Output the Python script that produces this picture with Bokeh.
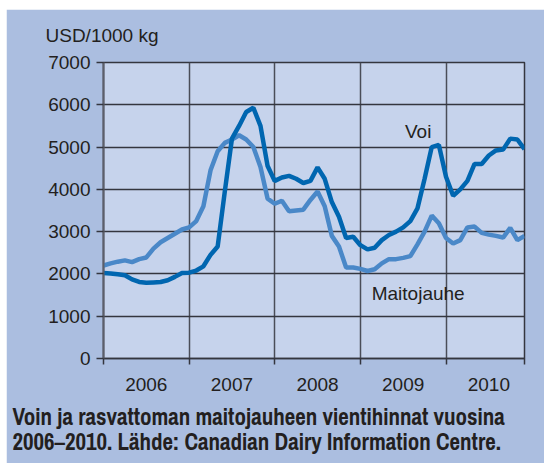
from bokeh.plotting import figure
from bokeh.models import FixedTicker, Title, Label, Range1d, Spacer
from bokeh.layouts import column, row
from bokeh.embed import file_html
from bokeh.resources import INLINE

# monthly data, Jan 2006 .. Dec 2010 (month index 0..59)
months = list(range(60))
voi = [2020, 2010, 1990, 1970, 1870, 1810, 1790, 1800, 1810, 1850, 1930, 2020,
       2030, 2080, 2180, 2450, 2650, 3950, 5200, 5500, 5830, 5930, 5500, 4550,
       4200, 4280, 4320, 4250, 4150, 4200, 4520, 4250, 3700, 3350, 2850, 2880,
       2680, 2580, 2620, 2800, 2920, 3000, 3100, 3250, 3550, 4250, 5000, 5050,
       4300, 3850, 4000, 4200, 4600, 4600, 4800, 4920, 4940, 5200, 5180, 4950]
maitojauhe = [2200, 2250, 2290, 2320, 2280, 2350, 2390, 2600, 2750, 2850, 2950, 3050,
              3100, 3250, 3600, 4450, 4900, 5100, 5180, 5280, 5180, 5000, 4530, 3780,
              3660, 3730, 3480, 3500, 3520, 3750, 3950, 3600, 2900, 2650, 2150, 2150,
              2120, 2070, 2110, 2250, 2350, 2350, 2380, 2420, 2700, 3000, 3380, 3200,
              2850, 2720, 2800, 3100, 3120, 2970, 2930, 2900, 2860, 3090, 2800, 2900]
year_labels = ["2006", "2007", "2008", "2009", "2010"]
year_centers = [6, 18, 30, 42, 54]
year_bounds = [0, 12, 24, 36, 48, 59]
y_ticks = [0, 1000, 2000, 3000, 4000, 5000, 6000, 7000]

FONT = "Liberation Sans"
CAP_FONT = "Archivo Narrow"
TXT = "#231f20"
GRID = "#34363f"

p = figure(width=538, height=454, output_backend="svg", toolbar_location=None,
           x_range=Range1d(0, 59), y_range=Range1d(0, 7000),
           min_border_left=97, min_border_right=20, min_border_top=53,
           min_border_bottom=105)

p.background_fill_color = "#c6d3ec"
p.border_fill_color = "#abbee0"
p.outline_line_color = GRID
p.outline_line_width = 1.5

p.line(months, maitojauhe, line_color="#4a88c8", line_width=4.5)
p.line(months, voi, line_color="#0066b0", line_width=4.5)

# y axis
p.yaxis.ticker = FixedTicker(ticks=y_ticks)
p.yaxis.major_tick_out = 7
p.yaxis.major_tick_in = 0
p.yaxis.major_tick_line_color = GRID
p.yaxis.major_tick_line_width = 1.5
p.yaxis.minor_tick_line_color = None
p.yaxis.axis_line_color = "#5c5f6a"
p.yaxis.axis_line_width = 2
p.yaxis.major_label_text_font = FONT
p.yaxis.major_label_text_font_size = "19px"
p.yaxis.major_label_text_color = TXT
p.yaxis.major_label_standoff = 6

# x axis
p.xaxis.ticker = FixedTicker(ticks=year_centers, minor_ticks=year_bounds)
p.xaxis.major_label_overrides = {c: l for c, l in zip(year_centers, year_labels)}
p.xaxis.major_tick_line_color = None
p.xaxis.major_tick_out = 0
p.xaxis.major_tick_in = 0
p.xaxis.minor_tick_out = 6
p.xaxis.minor_tick_in = 0
p.xaxis.minor_tick_line_color = GRID
p.xaxis.minor_tick_line_width = 1.5
p.xaxis.axis_line_color = GRID
p.xaxis.axis_line_width = 1.5
p.xaxis.major_label_text_font = FONT
p.xaxis.major_label_text_font_size = "19px"
p.xaxis.major_label_text_color = TXT
p.xaxis.major_label_standoff = 13

# grids
p.xgrid.grid_line_color = None
p.xgrid.minor_grid_line_color = "#4a4d58"
p.xgrid.minor_grid_line_width = 1.5
p.ygrid.grid_line_color = GRID
p.ygrid.grid_line_width = 1.5

# series labels
p.add_layout(Label(x=44.1, y=5368, text="Voi", text_align="center",
                   text_baseline="middle", text_font=FONT,
                   text_font_size="19px", text_color=TXT))
p.add_layout(Label(x=44.1, y=1537, text="Maitojauhe", text_align="center",
                   text_baseline="middle", text_font=FONT,
                   text_font_size="19px", text_color=TXT))

# unit title (empty title first to lift it above the top tick label)
p.add_layout(Title(text=" ", text_font_size="13px", standoff=0), "above")
p.add_layout(Title(text="USD/1000 kg", align="left", offset=-58, standoff=0,
                   text_font=FONT, text_font_size="19px",
                   text_font_style="normal", text_color=TXT), "above")

# caption (two lines)
caption = ("Voin ja rasvattoman maitojauheen vientihinnat vuosina\n"
           "2006\u20132010. L\u00e4hde: Canadian Dairy Information Centre.")
p.add_layout(Title(text=caption, align="left", offset=-91, standoff=11,
                   text_font=CAP_FONT, text_font_size="23px",
                   text_font_style="bold", text_line_height=0.8,
                   text_color=TXT), "below")

layout = column(Spacer(height=9), row(Spacer(width=6), p))
open("out.html", "w").write(file_html(layout, INLINE))
